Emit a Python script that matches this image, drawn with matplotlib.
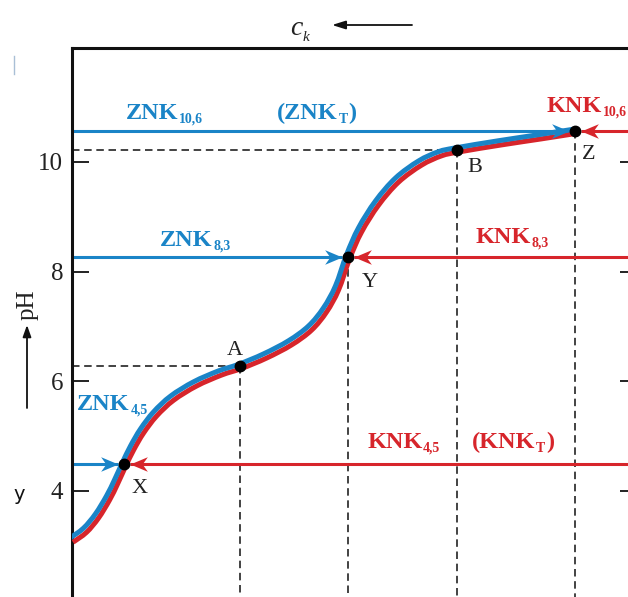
import numpy as np
import matplotlib.pyplot as plt
from matplotlib.path import Path
from matplotlib.patches import PathPatch
from matplotlib.markers import MarkerStyle
from matplotlib.lines import Line2D
from matplotlib import transforms

plt.rcParams['font.family'] = ['Liberation Serif', 'DejaVu Serif']

# titration curve (x: added titrant, arbitrary units)
curve_x = [0.000, 0.119, 0.225, 0.323, 0.393, 0.464, 0.535, 0.623, 0.738, 0.889, 1.092,
           1.313, 1.490, 1.711, 1.932, 2.109, 2.241, 2.347, 2.445, 2.551, 2.701, 2.878,
           3.081, 3.258, 3.409, 3.789, 4.142, 4.452]
curve_ph = [3.10, 3.28, 3.54, 3.87, 4.16, 4.48, 4.78, 5.09, 5.40, 5.69, 5.95,
            6.15, 6.27, 6.46, 6.70, 6.97, 7.30, 7.70, 8.27, 8.76, 9.25, 9.67,
            9.98, 10.15, 10.22, 10.35, 10.46, 10.56]

# marked points
point_names = ['X', 'A', 'Y', 'B', 'Z']
point_x = [0.464, 1.490, 2.445, 3.409, 4.452]
point_ph = [4.48, 6.27, 8.27, 10.22, 10.56]

# end points reached from both sides (ZNK from the left, KNK from the right)
endpoint_names = ['X', 'Y', 'Z']
dashed_h = ['A', 'B']
dashed_v = ['A', 'Y', 'B', 'Z']

yticks = [4, 6, 8, 10]

BLUE = '#1a84c7'
RED = '#d7252b'

fig = plt.figure(figsize=(6.28, 5.97), dpi=100)
ax = fig.add_axes([0.1139, -0.0516, 0.9005, 0.9712])
ax.set_xlim(0, 5)
ax.set_ylim(1.5, 12.08)

pts = dict(zip(point_names, zip(point_x, point_ph)))

# dashed helper lines
for n in dashed_h:
    px, py = pts[n]
    ax.plot([0, px], [py, py], color='#222', lw=1.2, ls=(0, (4.5, 2.8)), zorder=1)
for n in dashed_v:
    px, py = pts[n]
    ax.plot([px, px], [py, 1.5], color='#222', lw=1.2, ls=(0, (4.5, 2.8)), zorder=1)

# arrow heads (tip at origin)
head_r = MarkerStyle(Path([(0, 0), (-1, 0.42), (-0.7, 0), (-1, -0.42), (0, 0)],
                          [Path.MOVETO, Path.LINETO, Path.LINETO, Path.LINETO, Path.CLOSEPOLY]))
head_l = MarkerStyle(Path([(0, 0), (1, 0.42), (0.7, 0), (1, -0.42), (0, 0)],
                          [Path.MOVETO, Path.LINETO, Path.LINETO, Path.LINETO, Path.CLOSEPOLY]))
gap = 0.055
for n in endpoint_names:
    px, py = pts[n]
    ax.plot([0, px - gap], [py, py], color=BLUE, lw=2.2, zorder=2, solid_capstyle='butt')
    ax.plot([5, px + gap], [py, py], color=RED, lw=2.2, zorder=2, solid_capstyle='butt')
    ax.plot([px - gap], [py], marker=head_r, ms=25, color=BLUE, mew=0, zorder=4)
    ax.plot([px + gap], [py], marker=head_l, ms=25, color=RED, mew=0, zorder=4)

# smooth path through the read points (Catmull-Rom as cubic Bezier segments)
P = np.column_stack([curve_x, curve_ph])
verts = [P[0]]
codes = [Path.MOVETO]
for i in range(len(P) - 1):
    p0 = P[max(i - 1, 0)]
    p1, p2 = P[i], P[i + 1]
    p3 = P[min(i + 2, len(P) - 1)]
    verts += [p1 + (p2 - p0) / 6, p2 - (p3 - p1) / 6, p2]
    codes += [Path.CURVE4] * 3
curve_path = Path(verts, codes)

# curve: red and blue drawn side by side
red_tr = transforms.offset_copy(ax.transData, fig=fig, x=1.1, y=-1.5, units='points')
blue_tr = transforms.offset_copy(ax.transData, fig=fig, x=-1.1, y=1.5, units='points')
ax.add_patch(PathPatch(curve_path, fill=False, edgecolor=RED, lw=3.6, transform=red_tr,
                       zorder=3, capstyle='butt', joinstyle='round'))
ax.add_patch(PathPatch(curve_path, fill=False, edgecolor=BLUE, lw=3.6, transform=blue_tr,
                       zorder=3, capstyle='butt', joinstyle='round'))

ax.plot(point_x, point_ph, 'o', color='black', ms=7.5, zorder=6)

# point names (offsets in pixels from the point)
name_offsets = {'X': (8, -29, 'left'), 'A': (-5, 11, 'center'), 'Y': (14, -30, 'left'),
                'B': (10, -22, 'left'), 'Z': (7, -28, 'left')}
for n in point_names:
    dx, dy, ha = name_offsets[n]
    ax.annotate(n, pts[n], xytext=(dx, dy), textcoords='offset pixels', ha=ha,
                va='baseline', fontsize=16, color='#222', zorder=7)


def sub_label(x, y, main, sub, color, tail=''):
    t = ax.text(x, y, main, color=color, fontsize=17.5, fontweight='bold',
                ha='left', va='baseline', zorder=7)
    s = ax.annotate(sub, xy=(1, 0), xycoords=t, xytext=(0.5, 1), textcoords='offset points',
                    fontsize=10, fontweight='bold', color=color, ha='left', va='baseline')
    if tail:
        ax.annotate(tail, xy=(1, 0), xycoords=(s, t), xytext=(0.5, 0),
                    textcoords='offset points', fontsize=17.5, fontweight='bold',
                    color=color, ha='left', va='bottom')


sub_label(0.48, 10.78, 'ZNK', '10,6', BLUE)
sub_label(1.817, 10.78, '(ZNK', 'T', BLUE, ')')
sub_label(4.204, 10.91, 'KNK', '10,6', RED)
sub_label(0.782, 8.47, 'ZNK', '8,3', BLUE)
sub_label(3.568, 8.52, 'KNK', '8,3', RED)
sub_label(0.049, 5.47, 'ZNK', '4,5', BLUE)
sub_label(2.613, 4.78, 'KNK', '4,5', RED)
sub_label(3.541, 4.78, '(KNK', 'T', RED, ')')

# axes frame
for side in ['left', 'top', 'right']:
    ax.spines[side].set_linewidth(2.2)
    ax.spines[side].set_color('#111')
ax.spines['bottom'].set_visible(False)
ax.set_xticks([])
ax.set_yticks(yticks)
ax.tick_params(axis='y', direction='in', length=12, width=1.4, left=True, right=True,
               labelsize=18, pad=6, colors='#222')

# outer annotations
fig.text(28 / 628, 1 - 305 / 597, 'pH', rotation=90, ha='center', va='center',
         fontsize=18, color='#222')
ax.annotate('', xy=(27, 597 - 325), xycoords='figure pixels', xytext=(27, 597 - 408),
            textcoords='figure pixels', annotation_clip=False,
            arrowprops=dict(arrowstyle='-|>,head_length=0.7,head_width=0.25', color='#111',
                            lw=1.3, shrinkA=0, shrinkB=0))

ck = fig.text(290 / 628, 1 - 35 / 597, 'c', style='italic', fontsize=20, va='baseline',
              color='#222')
ax.annotate('k', xy=(1, 0), xycoords=ck, xytext=(0, 0), textcoords='offset points',
            style='italic', fontsize=11, va='baseline', color='#222', annotation_clip=False)
ax.annotate('', xy=(332, 597 - 25), xycoords='figure pixels', xytext=(412, 597 - 25),
            textcoords='figure pixels', annotation_clip=False,
            arrowprops=dict(arrowstyle='-|>,head_length=0.8,head_width=0.25', color='#111',
                            lw=1.3, shrinkA=0, shrinkB=0))

# stray marks at the left edge of the scan
fig.text(13 / 628, 1 - 495 / 597, 'y', fontfamily='DejaVu Sans', fontsize=14,
         ha='left', va='center', color='#111')
fig.add_artist(Line2D([14 / 628, 14 / 628], [1 - 56 / 597, 1 - 74 / 597],
                      color='#a9bfd6', lw=1))

fig.savefig('out.png', dpi=100)
